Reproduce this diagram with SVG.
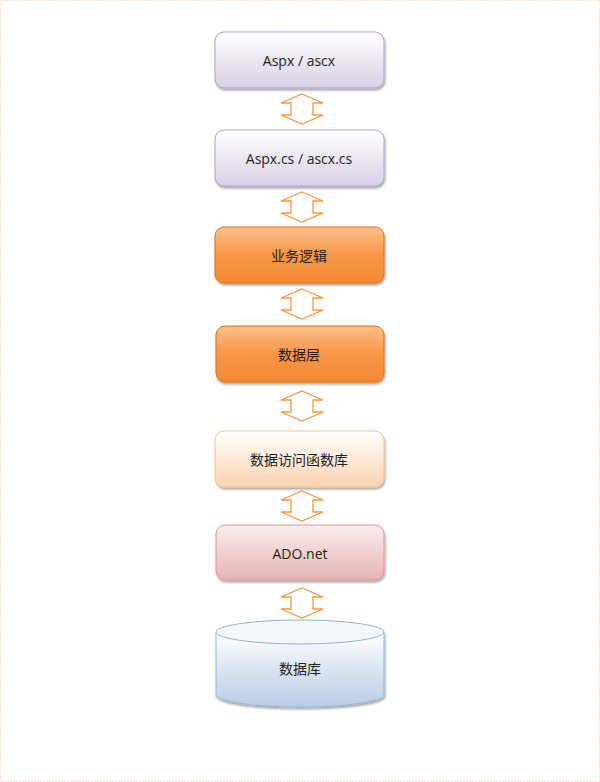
<svg xmlns="http://www.w3.org/2000/svg" width="600" height="782" viewBox="0 0 600 782">
<defs>
<linearGradient id="gP" x1="0" y1="0" x2="0" y2="1"><stop offset="0" stop-color="#ffffff"/><stop offset="1" stop-color="#d9d0e6"/></linearGradient>
<linearGradient id="gO" x1="0" y1="0" x2="0" y2="1"><stop offset="0" stop-color="#fbc08c"/><stop offset="0.5" stop-color="#f79646"/><stop offset="1" stop-color="#f58a34"/></linearGradient>
<linearGradient id="gL" x1="0" y1="0" x2="0" y2="1"><stop offset="0" stop-color="#ffffff"/><stop offset="1" stop-color="#fbd3b0"/></linearGradient>
<linearGradient id="gR" x1="0" y1="0" x2="0" y2="1"><stop offset="0" stop-color="#fbeeee"/><stop offset="1" stop-color="#e6b4b4"/></linearGradient>
<linearGradient id="gB" x1="0" y1="0" x2="0" y2="1"><stop offset="0" stop-color="#ffffff"/><stop offset="1" stop-color="#b8cce4"/></linearGradient>
<filter id="sh" x="-10%" y="-10%" width="120%" height="130%"><feDropShadow dx="1" dy="2" stdDeviation="1.2" flood-color="#000" flood-opacity="0.35"/></filter>
</defs>
<style>
text{font-family:"Open Sans","Noto Sans CJK SC",sans-serif;font-size:14px;fill:#222;text-anchor:middle;dominant-baseline:central}
.a{fill:#fff;stroke:#f79646;stroke-width:1.3}
</style>
<rect x="0.5" y="0.5" width="599" height="781" fill="#fff" stroke="#f4c9a0" stroke-dasharray="1,2"/>
<g id="connectors">
<path class="a" d="M302,94 L323,103 L313,103 L313,115 L323,115 L302,124 L281,115 L291,115 L291,103 L281,103 Z"/>
<path class="a" d="M302,192 L323,201 L313,201 L313,213 L323,213 L302,222 L281,213 L291,213 L291,201 L281,201 Z"/>
<path class="a" d="M302,289 L323,298 L313,298 L313,310 L323,310 L302,319 L281,310 L291,310 L291,298 L281,298 Z"/>
<path class="a" d="M302,391 L323,400 L313,400 L313,412 L323,412 L302,421 L281,412 L291,412 L291,400 L281,400 Z"/>
<path class="a" d="M302,491 L323,500 L313,500 L313,512 L323,512 L302,521 L281,512 L291,512 L291,500 L281,500 Z"/>
<path class="a" d="M302,588 L323,597 L313,597 L313,609 L323,609 L302,618 L281,609 L291,609 L291,597 L281,597 Z"/>
</g>
<g id="n1"><rect x="215" y="32" width="169" height="56" rx="9" fill="url(#gP)" stroke="#b3a2c7" filter="url(#sh)"/><text x="299" y="60">Aspx / ascx</text></g>
<g id="n2"><rect x="215" y="130" width="169" height="56" rx="9" fill="url(#gP)" stroke="#b3a2c7" filter="url(#sh)"/><text x="299" y="158">Aspx.cs / ascx.cs</text></g>
<g id="n3"><rect x="215" y="227" width="169" height="56" rx="9" fill="url(#gO)" stroke="#e46c0a" filter="url(#sh)"/><text x="299" y="255">业务逻辑</text></g>
<g id="n4"><rect x="216" y="326" width="168" height="56" rx="9" fill="url(#gO)" stroke="#e46c0a" filter="url(#sh)"/><text x="299" y="354">数据层</text></g>
<g id="n5"><rect x="215" y="431" width="169" height="56" rx="9" fill="url(#gL)" stroke="#fac090" filter="url(#sh)"/><text x="299" y="459">数据访问函数库</text></g>
<g id="n6"><rect x="216" y="525" width="168" height="55" rx="9" fill="url(#gR)" stroke="#d99694" filter="url(#sh)"/><text x="300" y="553">ADO.net</text></g>
<g id="n7">
<path d="M216,632 L216,695 A84,12 0 0 0 384,695 L384,632 Z" fill="url(#gB)" stroke="#95b3d7" filter="url(#sh)"/>
<ellipse cx="300" cy="632" rx="84" ry="12" fill="#f4f8fc" stroke="#95b3d7"/>
<text x="300" y="668">数据库</text></g>
</svg>
